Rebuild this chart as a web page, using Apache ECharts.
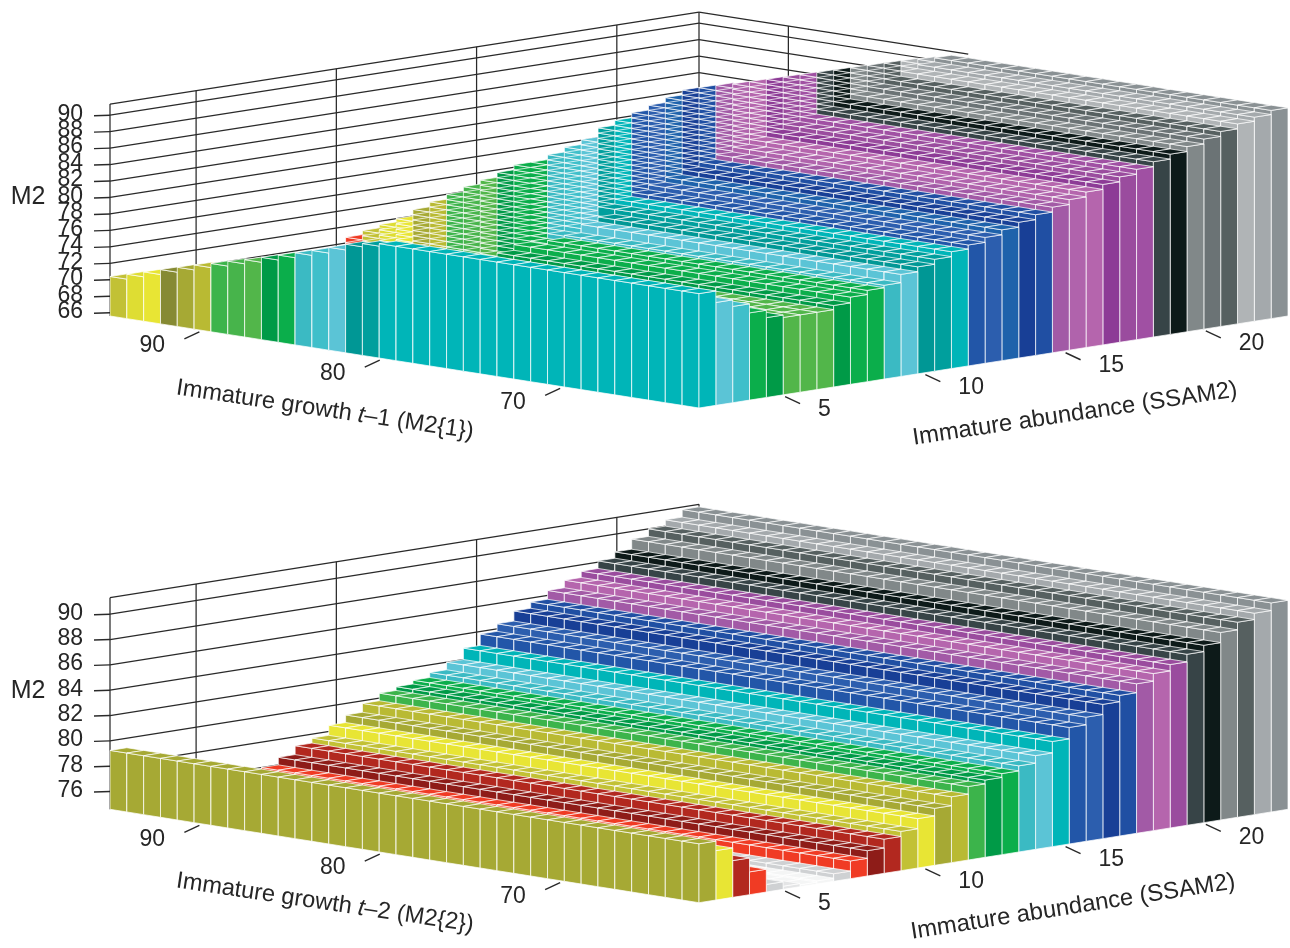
<!DOCTYPE html>
<html><head><meta charset="utf-8">
<style>html,body{margin:0;padding:0;background:#fff}#c{width:1290px;height:948px}</style>
<script src="https://cdn.jsdelivr.net/npm/echarts@6/dist/echarts.min.js"></script>
</head><body><div id="c"></div>
<script>
// Colour classes, lowest to highest
const palette = ['#F4F5F5','#E4E5E6','#CFD1D3','#F03B24','#8E1C18','#B2281F','#C2C135','#DEDD33','#E8E534','#868A33','#A6A934','#B9BA33','#3CB44B','#47B44B','#52B64A','#009A47','#0BAE4B','#3BBAC3','#3FBFCA','#5BC4D6','#009795','#009F9D','#00B5B8','#2256A8','#2C5EAE','#1E62AB','#183F96','#204FA3','#A25AA6','#B063AC','#B565AD','#8D3B96','#9A4C9E','#A050A3','#374447','#0D1A19','#818889','#6B7375','#566060','#B0B4B6','#A4A9AC','#8A9194'];

// Upper panel: M2 read per abundance row (row 0 at the front corner)
const upperRowValues = [79.5,78.1,77.3,76.2,75.3,75,75,75,75.5,76.2,76.7,77,78,78.6,79.2,79.8,80.3,80.9,81.5,82.1,82.7,83.3,83.9,84.5,85.1,85.7,86.3,86.9,87.5,88.1,88.7,89.3,89.9,90.4,90.9];
const upperRowLevels = [22,19,18,16,15,14,14,14,15,16,16,17,19,20,21,22,23,24,25,26,27,28,29,30,31,32,33,34,35,36,37,38,39,40,41];
// Upper panel: front row read per growth column (column 0 at the front corner)
const upperFrontValues = [79.5,79.5,79.5,79.5,79.5,79.5,79.5,79.5,79.5,79.5,79.5,79.5,79.5,79.5,79.5,79.5,79.5,79.5,79.5,79.2,78.8,78.1,77.4,76.8,76.2,75.6,75,74.5,73.9,73.4,72.8,72.2,71.6,71,70.4];
const upperFrontLevels = [22,22,22,22,22,22,22,22,22,22,22,22,22,22,22,22,22,22,22,21,20,19,18,17,16,15,14,13,12,11,10,9,8,7,6];
// Upper panel: ceiling read along the diagonals, row minus column = -20, -19, ... 15
const upperRidgeValues = [70.7,71.2,71.6,72,72.8,73.4,74,74.6,75.1,75.7,76.3,76.3,76.9,77.5,78.1,79.2,79.8,80.4,81,81.6,82.2,82.8,83.4,83.9,84.5,85.1,85.7,86.3,86.9,87.5,88.1,88.7,89.3,89.9,90.4,90.9];
const upperRidgeLevels = [3,6,7,8,10,11,12,13,14,15,16,16,17,18,19,21,22,23,24,25,26,27,28,29,30,31,32,33,34,35,36,37,38,39,40,41];
const upperHiddenValue = 67;

// Lower panel: M2 read per abundance row
const lowerRowValues = [79.25,78.5,77.5,76.4,75.2,74.85,74.75,74.85,75.2,76,76.6,77.3,77.7,78.5,79.1,79.8,80.4,80.7,81,81.4,82,82.9,83.8,84.4,85.2,85.7,86.4,87,87.5,88.1,88.6,89.4,90,90.5,91.1];
const lowerRowLevels = [10,8,5,3,2,1,0,0,2,3,4,5,6,8,10,11,12,15,16,17,19,22,23,24,26,27,28,30,32,34,35,36,38,40,41];

// Tick labels
const upperM2Ticks = [66,68,70,72,74,76,78,80,82,84,86,88,90];
const lowerM2Ticks = [76,78,80,82,84,86,88,90];
const growthTicks = [70,80,90];
const abundanceTicks = [5,10,15,20];

const CELLS = 35;
const FONT = '"Liberation Sans",Arial,sans-serif';
const LINE = '#2a2a2a', TEXT = '#262626', EDGE = 'rgba(255,255,255,0.72)';
const growthStart = 62.3, growthCell = 0.933, abundanceStart = 1.93, abundanceCell = 0.6;

function upperCell(i, j) {
  if (i === 0) return [upperFrontValues[j], upperFrontLevels[j]];
  const k = i - j + 20;
  const ridge = k < 0 ? upperHiddenValue : k >= upperRidgeValues.length ? Infinity : upperRidgeValues[k];
  if (ridge < upperRowValues[i]) return [ridge, k < 0 ? 3 : upperRidgeLevels[k]];
  return [upperRowValues[i], upperRowLevels[i]];
}
function lowerCell(i) { return [lowerRowValues[i], lowerRowLevels[i]]; }
function table(cell) {
  const rows = [];
  for (let i = CELLS - 1; i >= 0; i--) for (let j = CELLS - 1; j >= 0; j--) {
    const c = cell(i, j); rows.push([i, j, c[0], c[1]]);
  }
  return rows;
}

const panels = [
  {top: 12, height: 396, base: 65.6, wallTop: 91.35, pxPerUnit: 8.23, drop: 92/35, cells: table(upperCell), m2: upperM2Ticks, rightWall: 16},
  {top: 506, height: 396.7, base: 74.6, wallTop: 91.3, pxPerUnit: 12.67, drop: 93.4/35, cells: table(lowerCell), m2: lowerM2Ticks, rightWall: 0}
];

const grids = [], xAxes = [], yAxes = [], series = [];
panels.forEach((p, n) => {
  const slope = p.drop / p.pxPerUnit;
  const P = (api, i, j, v) => api.coord([i - j, v + (i + j) * slope]);
  grids.push({left: 110, width: 1178, top: p.top, height: p.height});
  xAxes.push({type: 'value', gridIndex: n, min: -CELLS, max: CELLS, show: false});
  yAxes.push({type: 'value', gridIndex: n, min: p.base, max: p.base + p.height / p.pxPerUnit, show: false});

  // back walls
  const walls = [];
  const far = CELLS, rEnd = CELLS - p.rightWall;
  p.m2.forEach(v => {
    walls.push([0, far, v, far, far, v]);
    if (p.rightWall) walls.push([far, far, v, far, rEnd, v]);
  });
  walls.push([0, far, p.wallTop, far, far, p.wallTop]);
  if (p.rightWall) walls.push([far, far, p.wallTop, far, rEnd, p.wallTop]);
  walls.push([0, far, p.base, 0, far, p.wallTop], [far, far, p.base, far, far, p.wallTop]);
  abundanceTicks.forEach(a => { const i = (a - abundanceStart) / abundanceCell; walls.push([i, far, p.base, i, far, p.wallTop]); });
  if (p.rightWall) growthTicks.forEach(g => { const j = (g - growthStart) / growthCell; if (j >= rEnd) walls.push([far, j, p.base, far, j, p.wallTop]); });
  series.push({
    type: 'custom', xAxisIndex: n, yAxisIndex: n, silent: true, animation: false, clip: false, z: 1,
    data: walls,
    renderItem: (params, api) => {
      const a = P(api, api.value(0), api.value(1), api.value(2));
      const b = P(api, api.value(3), api.value(4), api.value(5));
      return {type: 'line', shape: {x1: a[0], y1: a[1], x2: b[0], y2: b[1]}, style: {stroke: LINE, lineWidth: 1.25, fill: null}};
    }
  });

  // bars, painted from the back corner forward
  series.push({
    type: 'custom', xAxisIndex: n, yAxisIndex: n, silent: true, animation: false, clip: false, z: 2, progressive: 0,
    data: p.cells,
    renderItem: (params, api) => {
      const i = api.value(0), j = api.value(1), v = api.value(2), fill = palette[api.value(3)];
      const st = {fill, stroke: EDGE, lineWidth: 1};
      const q = (...pts) => ({type: 'polygon', shape: {points: pts}, style: st});
      return {type: 'group', children: [
        q(P(api, i, j + 1, v), P(api, i, j, v), P(api, i, j, p.base), P(api, i, j + 1, p.base)),
        q(P(api, i, j, v), P(api, i + 1, j, v), P(api, i + 1, j, p.base), P(api, i, j, p.base)),
        q(P(api, i, j, v), P(api, i + 1, j, v), P(api, i + 1, j + 1, v), P(api, i, j + 1, v))
      ]};
    }
  });

  // ticks and tick labels
  const ticks = [];
  p.m2.forEach(v => ticks.push(['m', v]));
  growthTicks.forEach(g => ticks.push(['g', g]));
  abundanceTicks.forEach(a => ticks.push(['a', a]));
  series.push({
    type: 'custom', xAxisIndex: n, yAxisIndex: n, silent: true, animation: false, clip: false, z: 3,
    data: ticks.map((t, k) => [k, t[1]]),
    renderItem: (params, api) => {
      const t = ticks[params.dataIndex], val = t[1];
      let a, b, lx, ly, align;
      if (t[0] === 'm') {
        const c = P(api, 0, far, val);
        a = [c[0] - 16, c[1] + 0.5]; b = c; lx = c[0] - 27; ly = c[1] - 1; align = 'right';
      } else if (t[0] === 'g') {
        const c = P(api, 0, (val - growthStart) / growthCell, p.base);
        a = [c[0], c[1] + 2]; b = [c[0] - 15, c[1] + 9]; lx = b[0] - 32; ly = b[1] + 7; align = 'center';
      } else {
        const c = P(api, (val - abundanceStart) / abundanceCell, 0, p.base);
        a = [c[0], c[1] + 2]; b = [c[0] + 15, c[1] + 9]; lx = b[0] + 18; ly = b[1] + 6; align = 'left';
      }
      return {type: 'group', children: [
        {type: 'line', shape: {x1: a[0], y1: a[1], x2: b[0], y2: b[1]}, style: {stroke: LINE, lineWidth: 1.4, fill: null}},
        {type: 'text', x: lx, y: ly, style: {text: String(val), fontFamily: FONT, fontSize: 23, fill: TEXT, textAlign: align, textVerticalAlign: 'middle'}}
      ]};
    }
  });
});

const title = (text, x, y, rot, size) => ({
  type: 'text', x, y, rotation: rot, silent: true, z: 10,
  style: {text, fontFamily: FONT, fontSize: size, fill: TEXT, align: 'center', verticalAlign: 'middle',
    rich: {i: {fontFamily: FONT, fontSize: size, fontStyle: 'italic', fill: TEXT}}}
});

const chart = echarts.init(document.getElementById('c'), null, {renderer: 'canvas'});
chart.setOption({
  animation: false,
  backgroundColor: '#fff',
  grid: grids, xAxis: xAxes, yAxis: yAxes, series,
  graphic: [
    title('M2', 28, 197, 0, 25),
    title('M2', 28, 691, 0, 25),
    title('Immature growth {i|t}–1 (M2{1})', 325, 410, -0.148, 23.6),
    title('Immature abundance (SSAM2)', 1075, 414, 0.148, 23.8),
    title('Immature growth {i|t}–2 (M2{2})', 325, 903, -0.148, 23.6),
    title('Immature abundance (SSAM2)', 1073, 907, 0.155, 23.8)
  ]
});
</script></body></html>
